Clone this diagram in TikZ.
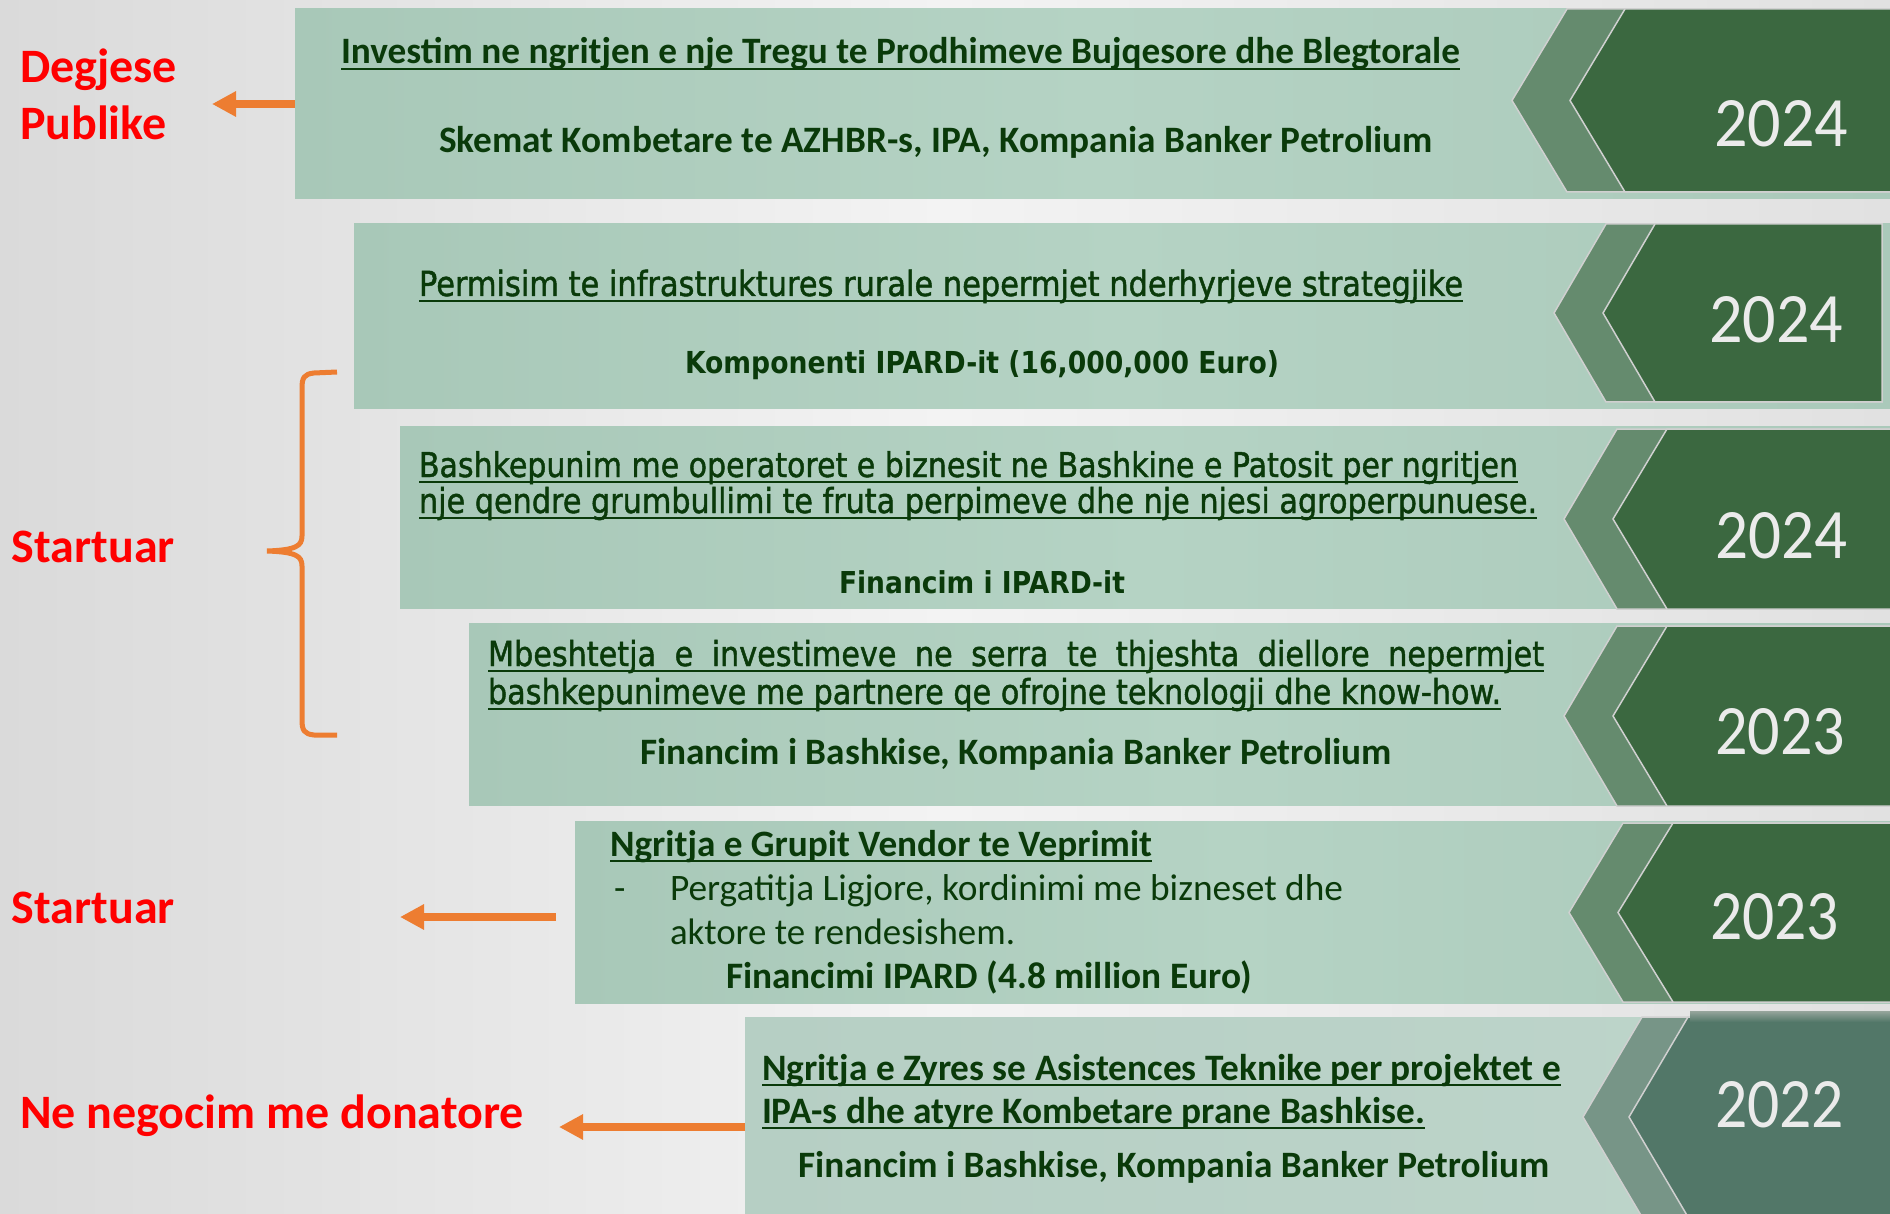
\documentclass[tikz,border=0pt]{standalone}
\usepackage{fontspec}
\usepackage{graphicx}
\usetikzlibrary{arrows.meta}
\setmainfont{Carlito}
\newfontfamily\tah[FakeStretch=0.88]{DejaVu Sans}
\newfontfamily\tahm[FakeStretch=0.88,FakeBold=1.3]{DejaVu Sans}
\definecolor{tg}{RGB}{10,58,10}
\definecolor{lbxL}{RGB}{168,200,184}
\definecolor{lbxM}{RGB}{181,211,196}
\definecolor{lbxR}{RGB}{170,201,186}
\definecolor{lbsL}{RGB}{182,207,196}
\definecolor{lbsR}{RGB}{190,213,203}
\definecolor{chout}{RGB}{101,139,110}
\definecolor{chin}{RGB}{59,104,64}
\definecolor{chout6}{RGB}{119,149,135}
\definecolor{chin6}{RGB}{82,119,104}
\definecolor{chline}{RGB}{208,208,208}
\definecolor{orng}{RGB}{237,125,49}
\definecolor{yearc}{RGB}{235,235,235}
\definecolor{bgl}{RGB}{218,218,218}
\definecolor{bgm}{RGB}{243,243,243}
\definecolor{bgr}{RGB}{225,225,225}
\definecolor{shad}{RGB}{150,165,156}
\newlength\rowfourw
\newlength\rowfourx
\newcommand\fitw[2]{\resizebox{#1}{!}{#2}}
\newcommand\mychev[8]{%
  \pgfmathsetmacro\chevym{(#1+#2)/2}%
  \filldraw[fill=chout#8, draw=chline, line width=1.5pt] (#3,#1) -- (#4,\chevym) -- (#3,#2) -- (#7,#2) -- (#7,#1) -- cycle;
  \filldraw[fill=chin#8, draw=chline, line width=1.5pt] (#5,#1) -- (#6,\chevym) -- (#5,#2) -- (#7,#2) -- (#7,#1) -- cycle;}
\tikzset{
  txt/.style={inner sep=0pt, outer sep=0pt, anchor=base west, text=tg},
  cal/.style={txt, font=\fontsize{30}{36}\selectfont},
  calb/.style={txt, font=\bfseries\fontsize{30}{36}\selectfont},
  tahr/.style={txt, font=\tahm\fontsize{30}{36}\selectfont},
  tahb/.style={txt, font=\tah\bfseries\fontsize{30}{36}\selectfont},
  redlab/.style={inner sep=0pt, outer sep=0pt, anchor=base west, text=red, font=\bfseries\fontsize{48}{58}\selectfont},
  yr/.style={inner sep=0pt, outer sep=0pt, anchor=base west, text=yearc, font=\fontsize{60}{70}\selectfont},
  ul/.style={draw=tg, line width=2.4pt},
  lbx/.style={left color=lbxL, right color=lbxR, middle color=lbxM, inner sep=0pt, outer sep=0pt, anchor=north west, draw=none},
  lbx6/.style={left color=lbsL, right color=lbsR, inner sep=0pt, outer sep=0pt, anchor=north west, draw=none},
  oarrow/.style={draw=orng, line width=8.5pt, -{Triangle[length=24pt,width=24pt]}},
  brace/.style={draw=orng, line width=5pt}
}
\newcommand\undl[1]{\draw[ul] ([yshift=-5pt]#1.base west) -- ([yshift=-5pt]#1.base east);}
\begin{document}
\settowidth\rowfourw{\tahm\fontsize{30}{36}\selectfont bashkepunimeve me partnere qe ofrojne teknologji dhe know-how.}%
\setlength\rowfourx{\dimexpr\rowfourw*1056/1013\relax}%
\begin{tikzpicture}[x=1pt,y=-1pt]
\useasboundingbox (0,0) rectangle (1890,1214);
\shade[left color=bgl, right color=bgr, middle color=bgm] (0,0) rectangle (1890,1214);
% boxes
\node[lbx, minimum width=1597pt, minimum height=190pt] (box1) at (295,9) {};
\node[lbx, minimum width=1538pt, minimum height=184pt] (box2) at (354,224) {};
\node[lbx, minimum width=1492pt, minimum height=182pt] (box3) at (400,426) {};
\node[lbx, minimum width=1423pt, minimum height=182pt] (box4) at (469,623) {};
\node[lbx, minimum width=1317pt, minimum height=182pt] (box5) at (575,821) {};
\node[lbx6, minimum width=1147pt, minimum height=200pt] (box6) at (745,1017) {};
% chevrons
\mychev{9}{192}{1567}{1512}{1625}{1570}{1893}{}
\mychev{224}{402}{1606}{1554}{1655}{1603}{1882}{}
\mychev{429}{609}{1617}{1564}{1667}{1613}{1893}{}
\mychev{626}{806}{1617}{1564}{1667}{1613}{1893}{}
\mychev{823}{1002}{1623}{1569}{1673}{1618}{1893}{}
\mychev{1017}{1217}{1642}{1583}{1688}{1629}{1893}{6}
\shade[top color=shad, bottom color=chin6] (1690,1011) rectangle (1890,1022);
% years
\node[yr] (y1) at (1714,147) {\resizebox{134pt}{46pt}{2024}};
\node[yr] (y2) at (1709,343) {\resizebox{134pt}{46pt}{2024}};
\node[yr] (y3) at (1715,558) {\resizebox{132pt}{46pt}{2024}};
\node[yr] (y4) at (1715,754) {\resizebox{130pt}{46pt}{2023}};
\node[yr] (y5) at (1710,939) {\resizebox{129pt}{46pt}{2023}};
\node[yr] (y6) at (1715,1127) {\resizebox{129pt}{46pt}{2022}};
% row 1
\node[calb] (t1a) at (341,64) {\fitw{1119pt}{Investim ne ngritjen e nje Tregu te Prodhimeve Bujqesore dhe Blegtorale}};
\node[calb] (t1b) at (439,153) {\fitw{994pt}{Skemat Kombetare te AZHBR-s, IPA, Kompania Banker Petrolium}};
% row 2
\node[tahr] (t2a) at (419,296) {\fitw{1044pt}{Permisim te infrastruktures rurale nepermjet nderhyrjeve strategjike}};
\node[tahb] (t2b) at (685,374) {\fitw{594pt}{Komponenti IPARD-it (16,000,000 Euro)}};
% row 3
\node[tahr] (t3a) at (419,477) {\fitw{1099pt}{Bashkepunim me operatoret e biznesit ne Bashkine e Patosit per ngritjen}};
\node[tahr] (t3b) at (419,513) {\fitw{1118pt}{nje qendre grumbullimi te fruta perpimeve dhe nje njesi agroperpunuese.}};
\node[tahb] (t3c) at (839,593) {\fitw{286pt}{Financim i IPARD-it}};
% row 4
\node[tahr] (t4a) at (488,666) {\resizebox{1056pt}{!}{\makebox[\rowfourx][s]{Mbeshtetja e investimeve ne serra te thjeshta diellore nepermjet}}};
\node[tahr] (t4b) at (488,704) {\fitw{1013pt}{bashkepunimeve me partnere qe ofrojne teknologji dhe know-how.}};
\node[calb] (t4c) at (640,764) {\fitw{752pt}{Financim i Bashkise, Kompania Banker Petrolium}};
% row 5
\node[calb] (t5a) at (610,856) {\fitw{542pt}{Ngritja e Grupit Vendor te Veprimit}};
\node[txt, font=\fontsize{37}{44}\selectfont] (t5d) at (614,900) {-};
\node[cal] (t5b) at (670,900) {\fitw{673pt}{Pergatitja Ligjore, kordinimi me bizneset dhe}};
\node[cal] (t5c) at (670,944) {\fitw{345pt}{aktore te rendesishem.}};
\node[calb] (t5e) at (726,988) {\fitw{526pt}{Financimi IPARD (4.8 million Euro)}};
% row 6
\node[calb] (t6a) at (762,1080) {\fitw{799pt}{Ngritja e Zyres se Asistences Teknike per projektet e}};
\node[calb] (t6b) at (762,1123) {\fitw{663pt}{IPA-s dhe atyre Kombetare prane Bashkise.}};
\node[calb] (t6c) at (798,1177) {\fitw{751pt}{Financim i Bashkise, Kompania Banker Petrolium}};
% underlines
\undl{t1a}\undl{t2a}\undl{t3a}\undl{t3b}\undl{t4a}\undl{t4b}\undl{t5a}\undl{t6a}\undl{t6b}
% red labels
\node[redlab] (l1a) at (20,83) {Degjese};
\node[redlab] (l1b) at (20,140) {Publike};
\node[redlab] (l2) at (12,562) {Startuar};
\node[redlab] (l3) at (12,923) {Startuar};
\node[redlab] (l4) at (20,1128) {Ne negocim me donatore};
% arrows
\coordinate (a1e) at (212,104);
\draw[oarrow] (box1.west) -- (a1e);
\coordinate (a5s) at (556,917);
\coordinate (a5e) at (400,917);
\draw[oarrow] (a5s) -- (a5e);
\coordinate (a6e) at (559,1127);
\draw[oarrow] (box6.west |- a6e) -- (a6e);
% brace
\draw[brace] (337,372) -- (314,373) .. controls (304,374) and (302,378) .. (302,388)
  -- (302,536) .. controls (302,546) and (296,550) .. (267,551)
  .. controls (296,552) and (302,556) .. (302,566)
  -- (302,720) .. controls (302,730) and (304,734) .. (314,735) -- (337,735);
\end{tikzpicture}
\end{document}
